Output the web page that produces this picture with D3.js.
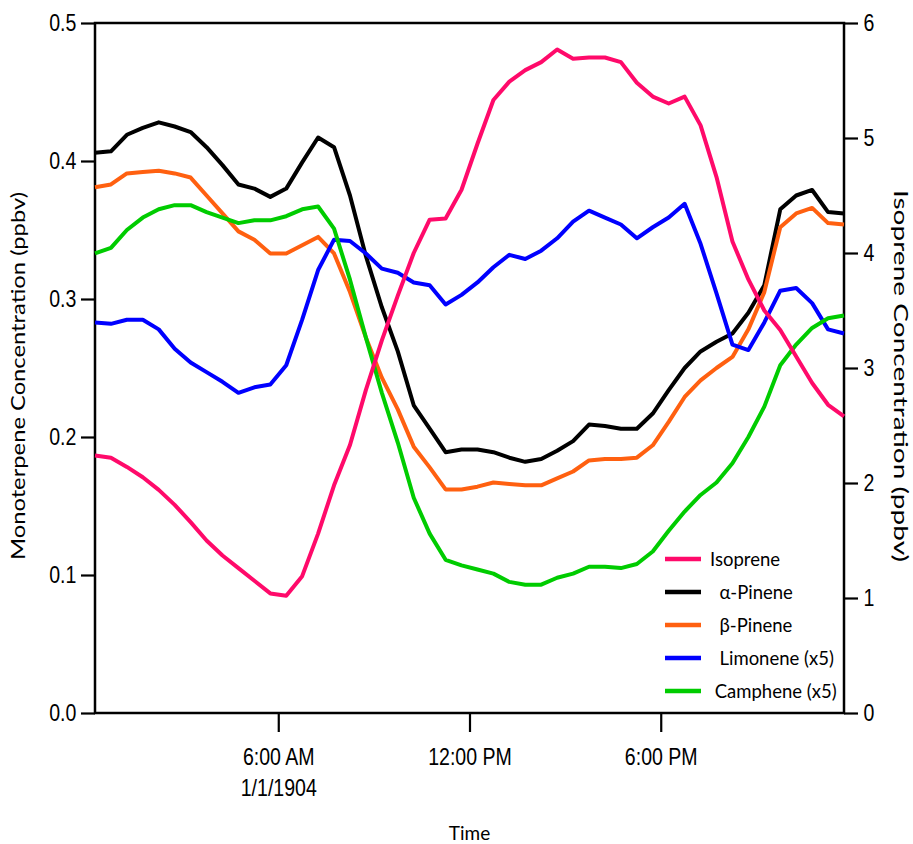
<!DOCTYPE html>
<html>
<head>
<meta charset="utf-8">
<script src="https://cdn.jsdelivr.net/npm/d3@7"></script>
<style>
  body { margin: 0; background: #fff; }
  svg { display: block; }
</style>
</head>
<body>
<svg id="viz" width="913" height="844"></svg>
<script>
// half-hourly time stamps (diurnal average)
var times = ['00:15','00:45','01:15','01:45','02:15','02:45','03:15','03:45','04:15','04:45',
  '05:15','05:45','06:15','06:45','07:15','07:45','08:15','08:45','09:15','09:45',
  '10:15','10:45','11:15','11:45','12:15','12:45','13:15','13:45','14:15','14:45',
  '15:15','15:45','16:15','16:45','17:15','17:45','18:15','18:45','19:15','19:45',
  '20:15','20:45','21:15','21:45','22:15','22:45','23:15','23:45'];

// isoprene, right axis (ppbv)
var isoprene = [2.24,2.22,2.14,2.05,1.94,1.81,1.66,1.50,1.37,1.26,1.15,1.04,1.02,1.19,1.56,1.98,
  2.33,2.81,3.24,3.63,4.00,4.29,4.30,4.55,4.95,5.33,5.49,5.59,5.66,5.77,5.69,5.70,
  5.70,5.66,5.48,5.36,5.30,5.36,5.11,4.66,4.10,3.77,3.50,3.33,3.10,2.87,2.68,2.58];

// left axis (ppbv)
var alphaPinene = [0.406,0.407,0.419,0.424,0.428,0.425,0.421,0.410,0.397,0.383,0.380,0.374,0.380,0.399,0.417,0.410,
  0.375,0.331,0.294,0.262,0.223,0.206,0.189,0.191,0.191,0.189,0.185,0.182,0.184,0.190,0.197,0.209,
  0.208,0.206,0.206,0.217,0.234,0.250,0.262,0.269,0.275,0.290,0.310,0.365,0.375,0.379,0.363,0.362];

var betaPinene = [0.381,0.383,0.391,0.392,0.393,0.391,0.388,0.375,0.362,0.349,0.343,0.333,0.333,0.339,0.345,0.333,
  0.305,0.272,0.243,0.220,0.193,0.178,0.162,0.162,0.164,0.167,0.166,0.165,0.165,0.170,0.175,0.183,
  0.184,0.184,0.185,0.194,0.211,0.229,0.241,0.250,0.258,0.278,0.305,0.352,0.362,0.366,0.355,0.354];

var limonene = [0.283,0.282,0.285,0.285,0.278,0.264,0.254,0.247,0.240,0.232,0.236,0.238,0.252,0.285,0.321,0.343,
  0.342,0.333,0.322,0.319,0.312,0.310,0.296,0.303,0.312,0.323,0.332,0.329,0.335,0.344,0.356,0.364,
  0.359,0.354,0.344,0.352,0.359,0.369,0.340,0.304,0.267,0.263,0.283,0.306,0.308,0.297,0.278,0.275];

var camphene = [0.333,0.337,0.350,0.359,0.365,0.368,0.368,0.363,0.359,0.355,0.357,0.357,0.360,0.365,0.367,0.351,
  0.314,0.272,0.232,0.196,0.156,0.130,0.111,0.107,0.104,0.101,0.095,0.093,0.093,0.098,0.101,0.106,
  0.106,0.105,0.108,0.117,0.132,0.146,0.158,0.167,0.181,0.200,0.222,0.252,0.267,0.279,0.286,0.288];

var leftTicks = [0, 0.1, 0.2, 0.3, 0.4, 0.5];
var rightTicks = [0, 1, 2, 3, 4, 5, 6];
var timeTicks = ['06:00', '12:00', '18:00'];
var timeLabels = [['6:00 AM', '1/1/1904'], ['12:00 PM'], ['6:00 PM']];

// legend order and the axis each series sits on
var series = [
  { name: 'Isoprene', values: isoprene, axis: 'right', color: '#ff0a6a' },
  { name: '\u00a0\u00a0\u03b1-Pinene', values: alphaPinene, axis: 'left', color: '#000000' },
  { name: '\u00a0\u00a0\u03b2-Pinene', values: betaPinene, axis: 'left', color: '#ff6010' },
  { name: '\u00a0\u00a0Limonene (x5)', values: limonene, axis: 'left', color: '#0000ff' },
  { name: '\u00a0Camphene (x5)', values: camphene, axis: 'left', color: '#00cc00' }
];

var margin = { top: 23, right: 69, bottom: 131, left: 95 };
var width = 913 - margin.left - margin.right;
var height = 844 - margin.top - margin.bottom;

var tickFont = '"Liberation Sans", Arial, sans-serif';
var titleFont = 'Lato, "Open Sans", sans-serif';

var parse = d3.timeParse('%H:%M');
var svg = d3.select('#viz');
var g = svg.append('g').attr('transform', 'translate(' + margin.left + ',' + margin.top + ')');

var x = d3.scaleTime().domain([parse(times[0]), parse(times[times.length - 1])]).range([0, width]);
var yL = d3.scaleLinear().domain([0, 0.5]).range([height, 0]);
var yR = d3.scaleLinear().domain([0, 6]).range([height, 0]);

// frame
g.append('rect')
  .attr('width', width)
  .attr('height', height)
  .attr('fill', 'none')
  .attr('stroke', '#000')
  .attr('stroke-width', 2.5);

// lines (isoprene drawn last so it sits on top as in the original)
var drawOrder = [1, 2, 3, 4, 0];
drawOrder.forEach(function (i) {
  var s = series[i];
  var yy = s.axis === 'right' ? yR : yL;
  var line = d3.line()
    .x(function (d, j) { return x(parse(times[j])); })
    .y(function (d) { return yy(d); });
  g.append('path')
    .datum(s.values)
    .attr('d', line)
    .attr('fill', 'none')
    .attr('stroke', s.color)
    .attr('stroke-width', 4)
    .attr('stroke-linejoin', 'round');
});

// left axis
var axL = g.append('g')
  .call(d3.axisLeft(yL).tickValues(leftTicks).tickFormat(d3.format('.1f')).tickSize(14).tickPadding(8));
// right axis
var axR = g.append('g')
  .attr('transform', 'translate(' + width + ',0)')
  .call(d3.axisRight(yR).tickValues(rightTicks).tickFormat(d3.format('d')).tickSize(14).tickPadding(9));
// bottom axis
var axB = g.append('g')
  .attr('transform', 'translate(0,' + height + ')')
  .call(d3.axisBottom(x).tickValues(timeTicks.map(parse)).tickFormat('').tickSize(19));

[axL, axR, axB].forEach(function (ax) {
  ax.attr('font-family', null);
  ax.select('.domain').remove();
  ax.selectAll('.tick line').attr('stroke-width', 2.2);
  ax.selectAll('.tick text')
    .style('font-family', tickFont)
    .style('font-size', '23px')
    .attr('fill', '#000')
    .attr('transform', 'scale(0.85,1)');
});

// two-line time labels
axB.selectAll('.tick').each(function (d, i) {
  var t = d3.select(this).append('text')
    .attr('text-anchor', 'middle')
    .attr('fill', '#000')
    .style('font-family', tickFont)
    .style('font-size', '23px')
    .attr('transform', 'scale(0.85,1)');
  timeLabels[i].forEach(function (lbl, k) {
    t.append('tspan').attr('x', 0).attr('y', 52 + k * 31).text(lbl);
  });
});

// axis titles
svg.append('text')
  .attr('transform', 'translate(25,' + (margin.top + height / 2 + 8) + ') rotate(-90)')
  .attr('text-anchor', 'middle')
  .style('font-family', titleFont)
  .style('font-size', '19px')
  .attr('textLength', 368)
  .attr('lengthAdjust', 'spacingAndGlyphs')
  .text('Monoterpene Concentration (ppbv)');

svg.append('text')
  .attr('transform', 'translate(894,' + (margin.top + height / 2 + 8) + ') rotate(90)')
  .attr('text-anchor', 'middle')
  .style('font-family', titleFont)
  .style('font-size', '19px')
  .attr('textLength', 372)
  .attr('lengthAdjust', 'spacingAndGlyphs')
  .text('Isoprene Concentration (ppbv)');

svg.append('text')
  .attr('x', margin.left + x(parse('12:00')))
  .attr('y', 840)
  .attr('text-anchor', 'middle')
  .style('font-family', titleFont)
  .style('font-size', '19px')
  .text('Time');

// legend
var legend = g.append('g').attr('transform', 'translate(570,536)');
series.forEach(function (s, i) {
  var row = legend.append('g').attr('transform', 'translate(0,' + i * 33 + ')');
  row.append('line')
    .attr('x1', 0).attr('x2', 36)
    .attr('stroke', s.color)
    .attr('stroke-width', 4.5);
  row.append('text')
    .attr('x', 45)
    .attr('y', 7)
    .style('font-family', titleFont)
    .style('font-size', '18.5px')
    .style('white-space', 'pre')
    .text(s.name);
});
</script>
</body>
</html>
